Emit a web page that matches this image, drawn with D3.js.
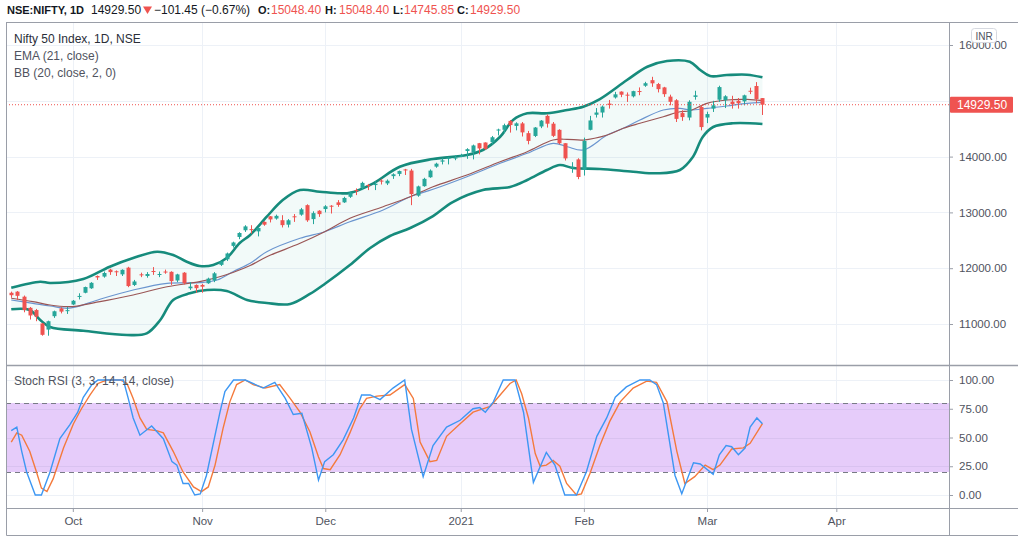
<!DOCTYPE html>
<html>
<head>
<meta charset="utf-8">
<script src="https://cdn.jsdelivr.net/npm/d3@7"></script>
<style>
  body { margin: 0; background: #fff; }
  svg { font-family: "Liberation Sans", Arial, sans-serif; }
</style>
</head>
<body>
<svg id="chart" width="1024" height="541"></svg>
<script>
// daily candles, Sep 17 2020 .. Mar 15 2021 (bar index 0..122)
const opens = [11560,11580,11490,11290,11250,11010,10900,11140,11280,11235,
  11350,11490,11560,11640,11860,11850,11975,11945,11890,12010,
  11700,11890,11860,11950,11885,11940,11935,11780,11920,11640,
  11700,11700,11730,11780,12060,12160,12400,12560,12680,12700,
  12660,12830,12930,12890,12860,12780,12930,12960,13130,12880,
  13030,13060,13120,13180,13180,13280,13400,13440,13490,13490,
  13570,13520,13650,13690,13770,13750,13300,13470,13630,13820,
  13910,13970,13970,13996,14100,14080,14240,14253,14260,14475,
  14480,14640,14550,14595,14420,14370,14540,14730,14590,14480,
  14240,13810,13950,13760,14480,14750,14790,14950,15060,15165,
  15110,15080,15175,15270,15370,15300,15240,15075,15010,14780,
  14700,15070,14890,14700,14860,15020,15010,14985,15000,14990,
  15180,15265,15048.4];
const highs = [11580,11590,11510,11305,11270,11020,11060,11240,11300,11305,
  11430,11550,11670,11750,11870,11940,11990,11960,11980,12025,
  11790,11920,11930,12020,11940,11975,11945,11900,11930,11750,
  11710,11720,11830,11930,12130,12280,12475,12645,12770,12770,
  12740,12840,12935,12960,12950,12880,12970,13080,13145,13020,
  13040,13130,13130,13220,13280,13370,13430,13550,13510,13560,
  13600,13590,13700,13750,13780,13780,13480,13620,13770,13890,
  13970,13990,14025,14050,14150,14215,14245,14255,14370,14500,
  14590,14655,14615,14620,14460,14530,14655,14755,14620,14490,
  14240,13900,13970,14340,14730,14870,14915,15015,15160,15170,
  15150,15180,15240,15340,15430,15320,15250,15110,15030,14830,
  15010,15180,14920,14805,15000,15270,15100,15090,15050,15110,
  15235,15335,15048.4];
const lows = [11470,11430,11210,11080,11050,10790,10790,11110,11190,11180,
  11340,11440,11550,11630,11790,11830,11880,11860,11860,11660,
  11680,11840,11830,11880,11840,11900,11700,11750,11710,11610,
  11560,11560,11720,11750,12040,12130,12370,12520,12650,12620,
  12570,12760,12820,12870,12730,12730,12830,12940,12830,12790,
  12920,13000,12980,13100,13170,13260,13310,13400,13400,13400,
  13500,13490,13600,13650,13670,13130,13280,13460,13620,13800,
  13860,13860,13935,13990,13960,13950,14040,14120,14220,14380,
  14420,14430,14470,14360,14220,14350,14510,14520,14350,14220,
  13930,13710,13595,13660,14470,14700,14700,14860,15040,15065,
  14980,15060,15100,15250,15250,15150,15070,14920,14620,14640,
  14650,15020,14470,14600,14800,14980,14870,14860,14860,14920,
  15120,14955,14745.85];
const closes = [11516,11505,11251,11153,11132,10806,11050,11228,11222,11248,
  11417,11503,11662,11738,11834,11914,11930,11934,11971,11680,
  11762,11873,11896,11937,11896,11930,11768,11889,11730,11670,
  11642,11669,11813,11908,12120,12264,12461,12631,12749,12691,
  12720,12780,12874,12938,12772,12859,12926,13055,12858,12987,
  12969,13109,13113,13134,13259,13356,13393,13529,13478,13514,
  13558,13568,13683,13741,13761,13328,13466,13601,13749,13873,
  13932,13982,13982,14019,14133,14200,14146,14137,14347,14485,
  14563,14565,14596,14434,14281,14521,14645,14590,14372,14239,
  13968,13818,13635,14281,14648,14790,14896,14924,15116,15109,
  15107,15173,15163,15315,15313,15209,15119,14982,14676,14708,
  14982,15097,14529,14762,14919,15246,15081,14938,14956,15098,
  15175,15031,14929.5];

// indicator lines as [bar index, value]
const bbUpper = [[0,11650],[4.7,11758],[6.3,11735],[11.7,11806],[16,12027],[19.8,12183],[23.7,12296],
  [26.3,12236],[28.5,12116],[30.6,12039],[32.8,12057],[35,12183],[37.1,12451],[38.8,12595],[41.5,12923],
  [44.1,13222],[46.9,13401],[50.1,13371],[53.4,13342],[55,13350],[58.8,13521],[63.1,13819],[68.5,13957],
  [74,14028],[76.6,14118],[79.4,14356],[81.5,14656],[83.8,14776],[87,14776],[90.3,14835],[92.9,14894],
  [95.6,15032],[100,15372],[103.3,15611],[106.5,15713],[110.2,15700],[111.9,15552],[113.5,15444],
  [116.2,15462],[119.5,15468],[122,15421]];
const bbLower = [[0,11263],[3,11251],[4.7,11072],[6.3,10946],[11.7,10880],[18.8,10803],[22,10833],
  [24.2,11072],[26.3,11430],[29,11550],[31.8,11609],[35,11591],[38.3,11430],[41.5,11376],[45.3,11358],
  [48.5,11538],[50.9,11717],[55,12057],[58.3,12362],[61.5,12577],[64.8,12720],[68.5,12935],[71.7,13186],
  [76.6,13401],[81,13455],[83.8,13580],[87,13760],[89.1,13849],[91.2,13796],[95.6,13778],[101,13729],
  [104.9,13701],[108.6,13760],[110.7,13993],[112.3,14351],[114,14530],[117.2,14597],[122,14584]];
const bbBasis = [[0,11430],[3.5,11371],[6.3,11323],[9.1,11281],[10.7,11310],[14.4,11443],[19.8,11609],
  [25.3,11729],[30.6,11740],[33.4,11788],[36,11937],[38.8,12088],[41.5,12296],[46.9,12536],[50.9,12654],
  [55,12833],[60.4,13043],[64.8,13281],[68.5,13414],[74,13640],[79.4,13880],[83.8,14059],[88,14238],
  [90.3,14177],[92.9,14118],[96.8,14387],[99.4,14507],[102.1,14656],[105.9,14835],[108.6,14865],
  [110.2,14835],[113,14865],[116.2,14907],[119.5,14955],[122,14973]];
const ema21 = [[0,11461],[3.5,11400],[6.3,11340],[9.1,11310],[10.7,11322],[14.4,11400],[19.8,11520],
  [25.3,11668],[30.6,11758],[33.4,11833],[36,11923],[38.8,12048],[41.5,12206],[46.9,12446],[50.9,12654],
  [55,12894],[60.4,13102],[64.8,13281],[68.5,13460],[74,13670],[79.4,13908],[83.8,14088],[88,14297],
  [90.3,14310],[92.9,14297],[96.8,14387],[99.4,14507],[102.1,14597],[105.9,14715],[108.6,14804],
  [110.2,14822],[113,14955],[116.2,15014],[119.5,15026],[122,15002]];

const stochK = [[0,56],[0.9,59],[1.7,38],[2.5,20],[3.9,0],[4.9,0],[6.3,20],[7.9,49],[9.5,61],[10.8,72],
  [11.7,85],[13.1,96],[14.1,100],[18.2,100],[19,84],[19.8,67],[20.9,52],[22.8,60],[24.7,49],[26.1,29],
  [26.9,26],[27.9,10],[28.8,10],[29.8,0],[30.7,1],[31.7,17],[33.9,72],[34.7,90],[36.1,100],[38,100],
  [40.9,93],[42.8,98],[44.5,84],[45.8,70],[47.2,71],[48.8,41],[49.9,13],[50.9,29],[52.3,35],[53.9,48],
  [55.6,67],[56.9,87],[58.3,87],[59.9,83],[62,93],[63.9,100],[65,57],[66.9,16],[68.5,43],[70.7,59],
  [72.9,65],[75,75],[76.1,76],[77,72],[78.3,81],[79.9,100],[81.8,100],[83.2,72],[84.8,11],[86.9,37],
  [88.3,26],[89.9,0],[91.8,0],[93.4,20],[95.1,51],[96.7,67],[98.1,85],[99.9,94],[102.1,100],[103.7,100],
  [104.8,96],[105.9,80],[107.8,17],[108.9,1],[110.8,28],[111.9,27],[114,18],[115,35],[116.1,43],[117,42],
  [118.1,35],[119.2,41],[120,59],[121.1,67],[122,62]];
const stochD = [[0,46],[0.9,54],[1.7,52],[3,38],[4.1,20],[4.9,6],[5.8,3],[6.8,14],[8.5,41],[10.1,62],
  [11.4,75],[12.8,87],[14.1,97],[15.5,100],[17.7,100],[18.8,97],[19.8,84],[20.9,67],[22,57],[23.6,56],
  [24.7,54],[26.3,38],[27.9,20],[29.6,7],[30.9,3],[32,7],[33.1,26],[34.4,58],[35.5,81],[36.6,96],[38,100],
  [39.3,96],[41.2,93],[43.6,96],[45.3,84],[46.9,72],[48.5,55],[49.9,33],[50.7,23],[51.8,22],[53.4,35],
  [55,54],[56.6,75],[57.7,84],[59.4,86],[61.5,87],[63.9,96],[65.3,84],[66.4,46],[68,29],[69.1,30],
  [70.7,51],[72.9,62],[75,72],[77.8,77],[79.4,87],[81,97],[82,100],[82.9,88],[84,67],[85.1,36],[85.9,25],
  [86.9,26],[88,30],[89.1,25],[90.2,10],[91.8,0],[92.6,1],[94,19],[95.6,43],[97.2,64],[98.9,81],[101,93],
  [103.2,99],[104.8,98],[106.5,81],[108.1,38],[109.4,10],[111,16],[112.7,26],[114,22],[115.1,26],[117,40],
  [118.9,41],[120,45],[122,62]];

const monthIdx = [10, 31, 51, 73, 93, 113, 134];
const monthLabels = ["Oct", "Nov", "Dec", "2021", "Feb", "Mar", "Apr"];
const priceTicks = [11000, 12000, 13000, 14000, 15000, 16000];
const rsiTicks = [0, 25, 50, 75, 100];
const lastPrice = 14929.5;

const up = "#26a69a", down = "#ef5350";
const L = 6, R = 949, T = 22, MID = 365, BOT = 508, AXB = 535;

const svg = d3.select("#chart");

const x = d3.scaleLinear().domain([-0.853, 152.3]).range([L, R]);
const y = d3.scaleLinear().domain([11000, 16000]).range([324, 45]);
const yr = d3.scaleLinear().domain([0, 100]).range([495, 380]);

svg.append("defs").call(g => {
  g.append("clipPath").attr("id", "clipMain").append("rect")
    .attr("x", L).attr("y", T).attr("width", R - L).attr("height", MID - T);
  g.append("clipPath").attr("id", "clipRsi").append("rect")
    .attr("x", L).attr("y", MID).attr("width", R - L).attr("height", BOT - MID);
});

// grid
const grid = svg.append("g").attr("stroke", "#edf1f7").attr("stroke-width", 1);
monthIdx.forEach(i => {
  const xx = Math.round(x(i)) + 0.5;
  grid.append("line").attr("x1", xx).attr("x2", xx).attr("y1", T).attr("y2", BOT);
});
priceTicks.forEach(v => {
  const yy = Math.round(y(v)) + 0.5;
  grid.append("line").attr("x1", L).attr("x2", R).attr("y1", yy).attr("y2", yy);
});

// ---- RSI panel
const rsi = svg.append("g").attr("clip-path", "url(#clipRsi)");
rsi.append("rect")
  .attr("x", L).attr("width", R - L)
  .attr("y", yr(80)).attr("height", yr(20) - yr(80))
  .attr("fill", "#e6ccfa");
rsiTicks.forEach(v => {
  const yy = Math.round(yr(v)) + 0.5;
  rsi.append("line").attr("x1", L).attr("x2", R).attr("y1", yy).attr("y2", yy)
    .attr("stroke", v === 0 || v === 100 ? "#edf1f7" : "#d9c2f0").attr("stroke-width", 1);
});
[80, 20].forEach(v => {
  const yy = Math.round(yr(v)) + 0.5;
  rsi.append("line").attr("x1", L).attr("x2", R).attr("y1", yy).attr("y2", yy)
    .attr("stroke", "#787b86").attr("stroke-dasharray", "5,4");
});
const rsiLine = d3.line().x(d => x(d[0])).y(d => yr(d[1]));
rsi.append("path").attr("d", rsiLine(stochD)).attr("fill", "none")
  .attr("stroke", "#f47a3c").attr("stroke-width", 1.4);
rsi.append("path").attr("d", rsiLine(stochK)).attr("fill", "none")
  .attr("stroke", "#3d97f3").attr("stroke-width", 1.4);

// ---- main panel
const main = svg.append("g").attr("clip-path", "url(#clipMain)");
const smooth = d3.line().x(d => x(d[0])).y(d => y(d[1])).curve(d3.curveCatmullRom.alpha(0.5));
const upperPath = smooth(bbUpper);
const lowerBack = smooth(bbLower.slice().reverse());
main.append("path").attr("d", upperPath + "L" + lowerBack.slice(1) + "Z")
  .attr("fill", "#26a69a").attr("fill-opacity", 0.06);
[bbUpper, bbLower].forEach(band => {
  main.append("path").attr("d", smooth(band)).attr("fill", "none")
    .attr("stroke", "#168b7c").attr("stroke-width", 2.6);
});
main.append("path").attr("d", smooth(bbBasis)).attr("fill", "none")
  .attr("stroke", "#6b95cf").attr("stroke-width", 1.2);
main.append("path").attr("d", smooth(ema21)).attr("fill", "none")
  .attr("stroke", "#9a5656").attr("stroke-width", 1.2);

const bars = closes.map((c, i) => ({ i, o: opens[i], h: highs[i], l: lows[i], c }));
const candle = main.selectAll("g.candle").data(bars).join("g")
  .attr("class", "candle")
  .attr("fill", d => d.c >= d.o ? up : down)
  .attr("stroke", d => d.c >= d.o ? up : down);
candle.append("line")
  .attr("x1", d => Math.round(x(d.i)) + 0.5).attr("x2", d => Math.round(x(d.i)) + 0.5)
  .attr("y1", d => y(d.h)).attr("y2", d => y(d.l));
candle.append("rect")
  .attr("stroke", "none")
  .attr("x", d => Math.round(x(d.i)) - 1.5).attr("width", 4)
  .attr("y", d => y(Math.max(d.o, d.c)))
  .attr("height", d => Math.max(1, Math.abs(y(d.o) - y(d.c))));

// last price dotted line
main.append("line")
  .attr("x1", L).attr("x2", R).attr("y1", y(lastPrice)).attr("y2", y(lastPrice))
  .attr("stroke", down).attr("stroke-dasharray", "1,2");

// ---- frame
const frame = svg.append("g").attr("stroke", "#9a9ea8").attr("stroke-width", 1).attr("fill", "none");
frame.append("path").attr("d", `M${L + 0.5},${T + 0.5}H1018M${L + 0.5},${T}V${AXB + 0.5}H1018`);
frame.append("line").attr("x1", R + 0.5).attr("x2", R + 0.5).attr("y1", T).attr("y2", AXB);
frame.append("line").attr("x1", L).attr("x2", 1018).attr("y1", MID + 0.5).attr("y2", MID + 0.5)
  .attr("stroke-width", 1.5);
frame.append("line").attr("x1", L).attr("x2", 1018).attr("y1", BOT + 0.5).attr("y2", BOT + 0.5);

// ---- axes
function styleAxis(g) {
  g.select(".domain").remove();
  g.selectAll(".tick line").attr("stroke", "#9a9ea8");
  g.selectAll(".tick text").attr("fill", "#50535e").style("font-size", "11.5px")
    .style("font-family", "'Liberation Sans', Arial, sans-serif");
}
// the 15000 label sits under the last-price tag, as in the reference
svg.append("g").attr("transform", `translate(${R},0)`)
  .call(d3.axisRight(y).tickValues(priceTicks)
    .tickFormat(d => d === 15000 ? "" : d3.format(".2f")(d)).tickSize(4).tickPadding(6))
  .call(styleAxis);
svg.append("g").attr("transform", `translate(${R},0)`)
  .call(d3.axisRight(yr).tickValues(rsiTicks).tickFormat(d3.format(".2f")).tickSize(4).tickPadding(6))
  .call(styleAxis);
svg.append("g").attr("transform", `translate(0,${BOT})`)
  .call(d3.axisBottom(x).tickValues(monthIdx).tickFormat((d, i) => monthLabels[i]).tickSize(4).tickPadding(5))
  .call(styleAxis);

// last price tag
svg.append("rect").attr("x", R + 1).attr("y", y(lastPrice) - 8).attr("width", 63).attr("height", 16)
  .attr("rx", 1).attr("fill", down);
svg.append("text").attr("x", R + 8).attr("y", y(lastPrice)).attr("dy", "0.35em")
  .attr("fill", "#fff").style("font-size", "12px").text(d3.format(".2f")(lastPrice));

// currency badge
svg.append("rect").attr("x", 971.5).attr("y", 28.5).attr("width", 25).attr("height", 14).attr("rx", 3)
  .attr("fill", "#fff").attr("stroke", "#d6d9e0");
svg.append("text").attr("x", 984).attr("y", 36).attr("dy", "0.35em").attr("text-anchor", "middle")
  .attr("fill", "#50535e").style("font-size", "10px").text("INR");

// ---- header
const hdr = svg.append("text").attr("y", 14).style("font-size", "12px").attr("fill", "#131722");
hdr.append("tspan").attr("x", 7).style("font-weight", "bold").style("font-size", "11px").text("NSE:NIFTY, 1D");
hdr.append("tspan").attr("x", 91).text("14929.50");
hdr.append("tspan").attr("x", 154).text("\u2212101.45 (\u22120.67%)");
svg.append("path").attr("d", "M143,6.5H152L147.5,14Z").attr("fill", down);
[["O:", 258, "15048.40", 271], ["H:", 325, "15048.40", 339], ["L:", 393, "14745.85", 404], ["C:", 457, "14929.50", 470]]
  .forEach(([k, kx, v, vx]) => {
    hdr.append("tspan").attr("x", kx).style("font-weight", "bold").style("font-size", "11px").text(k);
    hdr.append("tspan").attr("x", vx).attr("fill", down).text(v);
  });

// ---- legends
const leg = svg.append("g").style("font-size", "12px");
leg.append("text").attr("x", 14).attr("y", 43).attr("fill", "#2a2e39").text("Nifty 50 Index, 1D, NSE");
leg.append("text").attr("x", 14).attr("y", 60).attr("fill", "#50535e").text("EMA (21, close)");
leg.append("text").attr("x", 14).attr("y", 77).attr("fill", "#50535e").text("BB (20, close, 2, 0)");
leg.append("text").attr("x", 14).attr("y", 385).attr("fill", "#50535e").text("Stoch RSI (3, 3, 14, 14, close)");
</script>
</body>
</html>
